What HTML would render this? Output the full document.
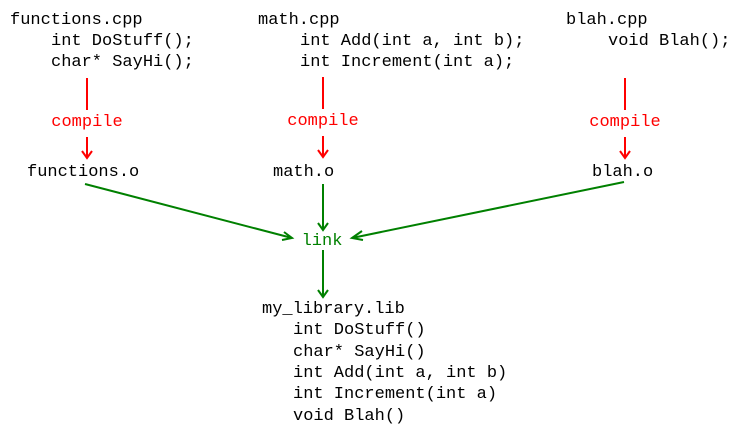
<!DOCTYPE html>
<html><head><meta charset="utf-8"><style>
html,body{margin:0;padding:0;background:#fff;width:735px;height:430px;overflow:hidden}
text{font-family:"Liberation Mono",monospace;font-size:17px}
</style></head><body>
<svg width="735" height="430" xmlns="http://www.w3.org/2000/svg">
<g fill="#000">
<text x="10" y="24">functions.cpp</text>
<text x="51" y="45">int DoStuff();</text>
<text x="51" y="66">char* SayHi();</text>
<text x="258" y="24">math.cpp</text>
<text x="300" y="45">int Add(int a, int b);</text>
<text x="300" y="66">int Increment(int a);</text>
<text x="566" y="24">blah.cpp</text>
<text x="608" y="45">void Blah();</text>
<text x="27" y="176">functions.o</text>
<text x="273" y="176">math.o</text>
<text x="592" y="176">blah.o</text>
<text x="262" y="313">my_library.lib</text>
<text x="293" y="334">int DoStuff()</text>
<text x="293" y="356">char* SayHi()</text>
<text x="293" y="377">int Add(int a, int b)</text>
<text x="293" y="398">int Increment(int a)</text>
<text x="293" y="420">void Blah()</text>
</g>
<g fill="#f00" text-anchor="middle">
<text x="87" y="126">compile</text>
<text x="323" y="125">compile</text>
<text x="625" y="126">compile</text>
</g>
<g stroke="#f00" stroke-width="2" fill="none">
<path d="M87 78V110M87 137V158M82 151L87 158L92 151"/>
<path d="M323 77V109M323 136V157M318 150L323 157L328 150"/>
<path d="M625 78V110M625 137V158M620 151L625 158L630 151"/>
</g>
<text x="322" y="245" fill="#008000" text-anchor="middle">link</text>
<g stroke="#008000" stroke-width="2" fill="none">
<path d="M85 184L292 238M284 232L292 238L282 240"/>
<path d="M323 184V230M318 223L323 230L328 223"/>
<path d="M624 182L352 238M362 231L352 238L363 240"/>
<path d="M323 250V297M318 290L323 297L328 290"/>
</g>
</svg>
</body></html>
